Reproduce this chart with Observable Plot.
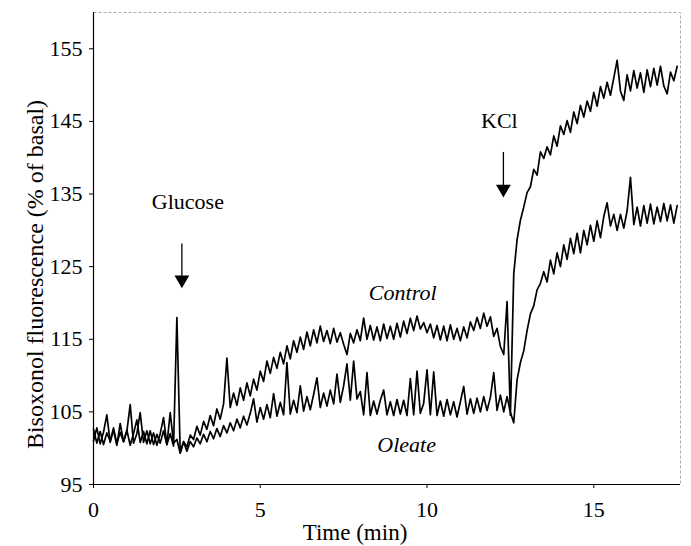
<!DOCTYPE html>
<html>
<head>
<meta charset="utf-8">
<script src="https://cdn.jsdelivr.net/npm/d3@7"></script>
<script src="https://cdn.jsdelivr.net/npm/@observablehq/plot@0.6"></script>
<style>
  html, body { margin: 0; padding: 0; background: #fff; }
</style>
</head>
<body>
<div id="chart"></div>
<script>
// Sampling interval of both traces (min)
const sampleInterval = 0.1;

// Control trace, % of basal, sampled every 0.1 min from t = 0
const control = [
  102.6,100.7,102.3,100.5,102.1,101.0,102.8,100.6,102.2,100.9,
  102.5,100.4,102.0,103.9,100.8,102.3,100.6,102.4,100.5,101.9,
  100.7,102.4,100.5,102.0,100.3,118.0,99.4,100.9,100.2,101.8,
  101.2,103.0,101.8,103.7,102.6,104.5,103.1,105.4,104.0,106.1,
  112.4,105.6,107.6,105.9,108.3,106.6,109.0,107.2,109.5,108.0,
  110.6,109.2,112.0,110.3,112.5,111.0,113.2,111.6,114.1,112.3,
  114.8,113.2,115.3,113.6,116.0,114.1,116.3,114.5,116.8,114.7,
  116.2,114.4,116.5,114.6,115.9,114.3,112.9,115.8,114.5,116.3,
  114.8,117.9,115.0,116.9,114.9,116.7,114.8,117.1,115.1,116.8,
  115.0,117.2,115.3,117.5,115.8,117.9,116.2,118.2,116.4,117.3,
  115.9,117.1,115.2,116.9,114.9,116.8,114.8,117.0,115.0,116.5,
  114.8,116.7,115.2,117.4,116.2,118.0,116.5,118.6,116.8,118.1,
  115.4,116.5,114.0,112.9,120.2,104.5,124.0,128.7,131.4,133.2,
  135.2,136.0,138.4,137.6,140.8,139.9,141.5,140.4,143.0,141.6,
  144.4,143.2,145.1,143.5,146.3,144.7,147.2,145.6,147.8,146.4,
  149.0,147.1,149.8,148.2,150.4,148.6,151.0,153.4,149.2,147.9,
  151.4,149.2,152.0,149.6,151.7,149.0,152.1,149.8,152.3,150.0,
  152.6,149.9,148.8,151.8,150.6,152.6
];

// Oleate trace, % of basal, sampled every 0.1 min from t = 0
const oleate = [
  101.0,102.8,100.6,102.2,104.6,100.8,102.5,100.4,103.4,100.9,
  102.3,106.0,100.7,102.0,104.9,100.8,102.4,100.6,102.1,100.4,
  102.0,104.2,100.5,104.9,100.7,101.2,99.3,100.9,99.6,100.9,
  100.2,101.4,100.6,101.9,100.9,102.3,101.3,102.7,101.6,103.1,
  102.1,103.5,102.4,104.0,102.8,104.4,103.2,104.8,106.8,103.6,
  105.6,104.0,106.0,104.2,107.5,104.4,106.3,104.6,111.8,104.7,
  106.6,104.9,108.6,105.1,107.1,105.3,107.4,109.7,105.6,107.6,
  105.8,108.0,106.1,110.2,106.3,108.6,111.6,106.6,112.0,106.8,
  107.8,104.6,110.4,104.5,106.5,104.7,106.6,108.0,104.6,106.4,
  104.5,106.7,104.7,106.6,104.5,109.6,104.6,110.6,104.8,106.2,
  110.8,104.6,110.5,104.5,106.5,104.4,106.7,104.6,106.4,104.3,
  106.4,108.5,104.7,106.8,104.8,106.9,105.0,107.1,105.2,107.0,
  110.4,105.2,107.3,105.0,107.1,104.9,103.5,109.4,111.8,113.4,
  116.2,118.5,119.6,121.8,122.7,124.3,122.9,125.9,124.0,126.9,
  125.0,128.0,126.0,128.9,126.8,129.6,126.9,130.0,128.0,130.7,
  128.5,131.3,129.0,131.9,133.8,130.6,132.2,130.0,132.2,130.3,
  132.7,137.3,130.8,133.2,130.6,133.4,131.0,133.6,130.9,133.2,
  131.2,133.7,131.3,133.5,131.0,133.4
];

// Axis ticks
const xTicks = [0, 5, 10, 15];
const yTicks = [95, 105, 115, 125, 135, 145, 155];

// Annotation labels (time in min, value in % of basal)
const arrowLabels = ["Glucose", "KCl"];
const arrowLabelTime = [2.83, 12.17];
const arrowLabelValue = [133.9, 145.0];
const arrowTime = [2.65, 12.29];
const arrowStart = [128.2, 140.8];
const arrowTip = [123.2, 135.7];

const seriesLabels = ["Control", "Oleate"];
const seriesLabelTime = [9.27, 9.39];
const seriesLabelValue = [121.4, 100.5];

const toRows = (vals) => vals.map((v, i) => ({t: i * sampleInterval, v}));
const controlRows = toRows(control);
const oleateRows = toRows(oleate);
const arrows = arrowLabels.map((label, i) => ({
  label, lt: arrowLabelTime[i], lv: arrowLabelValue[i],
  t: arrowTime[i], v1: arrowStart[i], v2: arrowTip[i]
}));
const seriesNotes = seriesLabels.map((label, i) => ({label, t: seriesLabelTime[i], v: seriesLabelValue[i]}));

const font = "'Liberation Serif', 'Times New Roman', serif";

const chart = Plot.plot({
  width: 691,
  height: 546,
  marginLeft: 93,
  marginRight: 11,
  marginTop: 12,
  marginBottom: 62,
  style: {fontFamily: font, fontSize: "22px", color: "#000", background: "#fff"},
  x: {domain: [0, 17.6], ticks: xTicks, tickSize: 4, tickPadding: 13, label: null},
  y: {domain: [95, 160], ticks: yTicks, tickSize: 4, tickPadding: 7, label: null},
  marks: [
    Plot.frame({stroke: "#aaa", strokeDasharray: "3,2", strokeWidth: 1}),
    Plot.ruleX([0], {stroke: "#000", strokeWidth: 1.2}),
    Plot.ruleY([95], {stroke: "#000", strokeWidth: 1.2}),
    Plot.line(controlRows, {x: "t", y: "v", stroke: "#000", strokeWidth: 1.7}),
    Plot.line(oleateRows, {x: "t", y: "v", stroke: "#000", strokeWidth: 1.7}),
    Plot.link(arrows, {x1: "t", x2: "t", y1: "v1", y2: "v2", stroke: "#000", strokeWidth: 1.3}),
    Plot.dot(arrows, {x: "t", y: "v2", symbol: "triangle", rotate: 180, r: 5.5, fill: "#000", stroke: "none"}),
    Plot.text(arrows, {x: "lt", y: "lv", text: "label", fontSize: 22, fill: "#000"}),
    Plot.text(seriesNotes, {x: "t", y: "v", text: "label", fontSize: 22, fontStyle: "italic", fill: "#000"}),
    Plot.text(["Bisoxonol fluorescence (% of basal)"], {frameAnchor: "left", textAnchor: "middle", lineAnchor: "middle", dx: -58, dy: 26, rotate: -90, fontSize: 24, fill: "#000"}),
    Plot.text(["Time (min)"], {frameAnchor: "bottom", textAnchor: "middle", lineAnchor: "middle", dx: -32, dy: 48, fontSize: 23, fill: "#000"})
  ]
});
document.getElementById("chart").appendChild(chart);
</script>
</body>
</html>
